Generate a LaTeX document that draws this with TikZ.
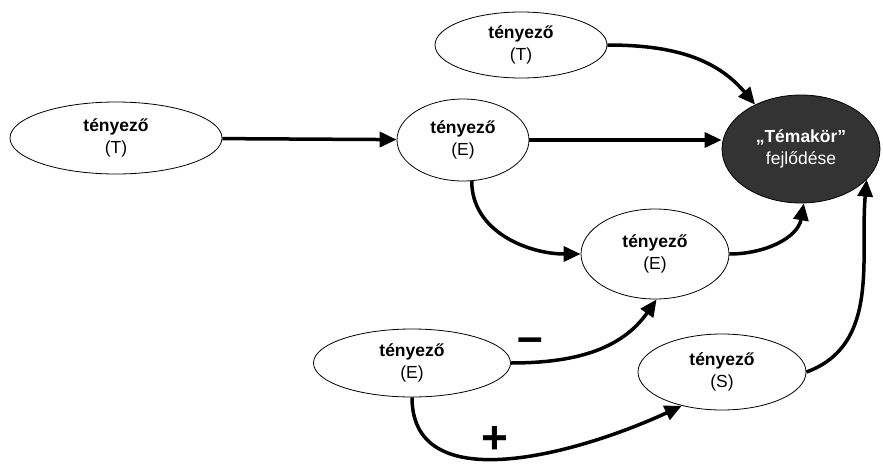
\documentclass[tikz,border=0pt]{standalone}
\usepackage{fontspec}
\setmainfont{Liberation Sans}
\usetikzlibrary{arrows.meta,shapes.geometric}

\begin{document}
\begin{tikzpicture}[x=1pt, y=-1pt, line width=3.5pt, arrows={-Triangle[length=17pt,width=15pt]},
	factor/.style={ellipse, draw, line width=0.8pt, fill=white, inner sep=0pt, align=center, font=\fontsize{17.5}{22}\selectfont},
	target/.style={factor, fill=black!80, text=white},
	sign/.style={inner sep=0pt, font=\fontsize{46}{46}\selectfont\bfseries}]
	\useasboundingbox (0,0) rectangle (883,474);
	\node [factor, minimum width=172pt, minimum height=66pt] (T1) at (521,45) {\textbf{tényező}\\(T)};
	\node [factor, minimum width=212pt, minimum height=72pt] (T2) at (116,138) {\textbf{tényező}\\(T)};
	\node [factor, minimum width=132pt, minimum height=82pt] (E1) at (463,140) {\textbf{tényező}\\(E)};
	\node [target, minimum width=158pt, minimum height=108pt] (TK) at (801,149) {\textbf{„Témakör”}\\fejlődése};
	\node [factor, minimum width=148pt, minimum height=90pt] (E2) at (655,254) {\textbf{tényező}\\(E)};
	\node [factor, minimum width=197pt, minimum height=68pt] (E3) at (412,363) {\textbf{tényező}\\(E)};
	\node [factor, minimum width=168pt, minimum height=76pt] (S) at (722,372) {\textbf{tényező}\\(S)};
	\node [sign] (minus) at (530,345) {–};
	\node [sign] (plus) at (495,440) {+};

	\draw (T2) -- (E1);
	\draw (E1) -- (E1 -| TK.west);
	\draw (T1.east) to [out=0, in=130] (TK.136);
	\draw (E1.-78) to [out=-90, in=180] (E2.west);
	\draw (E2.east) to [out=0, in=-100] (TK.-87);
	\draw (E3.east) to [out=0, in=-125] (E2.-88);
	\draw (E3.south) to [out=-90, in=-155] (S.-140);
	\draw (S.east) to [out=20, in=-95] (TK.-25);
\end{tikzpicture}
\end{document}
